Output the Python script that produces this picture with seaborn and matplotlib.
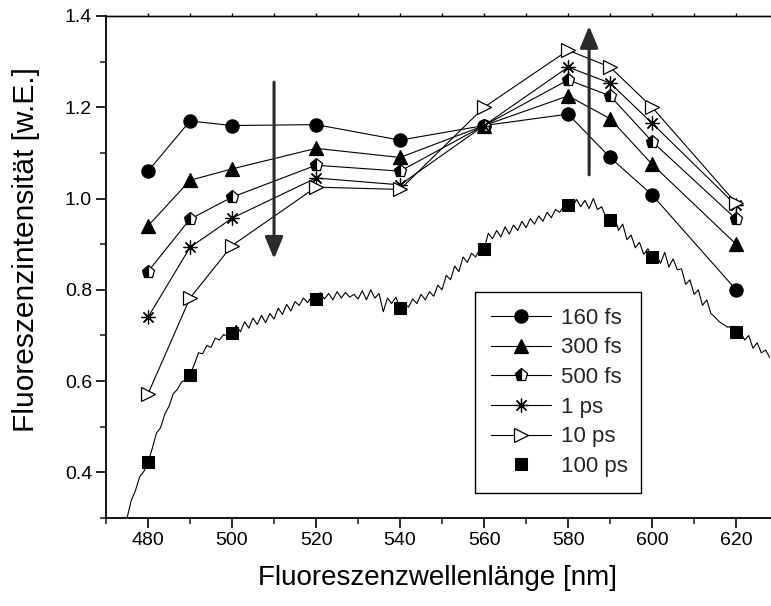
import numpy as np
import pandas as pd
import matplotlib
matplotlib.use("Agg")
import matplotlib.pyplot as plt
import seaborn as sns
from matplotlib.ticker import MultipleLocator

# ---------------- data ----------------
wavelengths = [480, 490, 500, 520, 540, 560, 580, 590, 600, 620]
s160fs = [1.060, 1.170, 1.160, 1.162, 1.128, 1.160, 1.185, 1.090, 1.008, 0.800]
s300fs = [0.940, 1.040, 1.065, 1.110, 1.090, 1.160, 1.225, 1.175, 1.075, 0.900]
s500fs = [0.840, 0.955, 1.003, 1.073, 1.060, 1.160, 1.260, 1.225, 1.125, 0.955]
s1ps = [0.740, 0.893, 0.957, 1.045, 1.030, 1.160, 1.288, 1.253, 1.165, 0.985]
s10ps = [0.572, 0.782, 0.897, 1.025, 1.020, 1.200, 1.325, 1.288, 1.200, 0.990]
s100ps = [0.422, 0.613, 0.705, 0.780, 0.760, 0.889, 0.986, 0.952, 0.872, 0.708]

spec_wl = list(range(475, 629))
spec_int = [
    0.300, 0.338, 0.360, 0.390, 0.402, 0.422, 0.452, 0.486, 0.498, 0.528,
    0.545, 0.572, 0.582, 0.598, 0.603, 0.615, 0.636, 0.662, 0.660, 0.678,
    0.674, 0.694, 0.690, 0.702, 0.698, 0.706, 0.722, 0.708, 0.730, 0.716,
    0.738, 0.724, 0.744, 0.728, 0.748, 0.736, 0.760, 0.746, 0.768, 0.754,
    0.774, 0.766, 0.782, 0.772, 0.786, 0.780, 0.794, 0.780, 0.792, 0.778,
    0.796, 0.782, 0.794, 0.784, 0.790, 0.780, 0.798, 0.778, 0.800, 0.782,
    0.792, 0.752, 0.782, 0.770, 0.784, 0.760, 0.770, 0.762, 0.780, 0.770,
    0.790, 0.778, 0.796, 0.786, 0.810, 0.800, 0.832, 0.822, 0.852, 0.840,
    0.872, 0.860, 0.880, 0.872, 0.890, 0.889, 0.924, 0.912, 0.930, 0.916,
    0.938, 0.922, 0.942, 0.930, 0.950, 0.936, 0.956, 0.944, 0.962, 0.950,
    0.970, 0.958, 0.976, 0.970, 0.984, 0.986, 0.980, 0.998, 0.982, 0.996,
    0.978, 1.000, 0.976, 0.982, 0.958, 0.952, 0.962, 0.930, 0.944, 0.910,
    0.920, 0.892, 0.904, 0.878, 0.890, 0.872, 0.878, 0.858, 0.882, 0.850,
    0.868, 0.844, 0.846, 0.812, 0.822, 0.790, 0.800, 0.766, 0.778, 0.748,
    0.740, 0.730, 0.724, 0.718, 0.720, 0.708, 0.710, 0.690, 0.700, 0.672,
    0.684, 0.662, 0.668, 0.652,
]

series_labels = ["160 fs", "300 fs", "500 fs", "1 ps", "10 ps", "100 ps"]
x_label = "Fluoreszenzwellenlänge [nm]"
y_label = "Fluoreszenzintensität [w.E.]"

# ---------------- style ----------------
sns.set_theme(style="ticks")
plt.rcParams["font.family"] = ["Liberation Sans", "DejaVu Sans"]
plt.rcParams["axes.linewidth"] = 1.3

fig = plt.figure(figsize=(7.71, 6.06), dpi=100)
ax = fig.add_axes([0.1375, 0.1452, 0.8625, 0.8284])

# spectrum (thin line)
spec_df = pd.DataFrame({"wl": spec_wl, "I": spec_int})
sns.lineplot(data=spec_df, x="wl", y="I", ax=ax, color="black", lw=0.8,
             label="_nolegend_", legend=False)

line_kw = dict(color="black", lw=0.8, markeredgecolor="black",
               markeredgewidth=0.9, legend=False)
series = [s160fs, s300fs, s500fs, s1ps, s10ps]
marker_specs = [
    dict(marker="o", markersize=9.5, markerfacecolor="black"),
    dict(marker="^", markersize=10, markerfacecolor="black"),
    dict(marker="p", markersize=9.5, markerfacecolor="black",
         fillstyle="left", markerfacecoloralt="white"),
    dict(marker=(8, 2, 0), markersize=10, markeredgewidth=0.9),
    dict(marker=">", markersize=9.5, markerfacecolor="white"),
]
handles = []
for vals, lab, mk in zip(series, series_labels[:5], marker_specs):
    df = pd.DataFrame({"wl": wavelengths, "I": vals})
    n_before = len(ax.lines)
    kw = dict(line_kw)
    kw.update(mk)
    sns.lineplot(data=df, x="wl", y="I", ax=ax, label=lab, **kw)
    handles.append(ax.lines[n_before])

# 100 ps squares (no line)
df100 = pd.DataFrame({"wl": wavelengths, "I": s100ps})
n_before = len(ax.lines)
sns.lineplot(data=df100, x="wl", y="I", ax=ax, color="black", lw=0,
             marker="s", markersize=8, markerfacecolor="black",
             markeredgecolor="black", label=series_labels[5], legend=False)
handles.append(ax.lines[n_before])

# arrows
arrow_kw = dict(arrowstyle="-|>,head_length=1.2,head_width=0.5",
                color="#2b2b2b", lw=2.2, mutation_scale=11, shrinkA=0, shrinkB=0)
ax.annotate("", xy=(510, 0.868), xytext=(510, 1.255), arrowprops=arrow_kw)
ax.annotate("", xy=(585, 1.378), xytext=(585, 1.052), arrowprops=arrow_kw)

# axes
ax.set_xlim(470, 628.3)
ax.set_ylim(0.3, 1.4)
ax.xaxis.set_minor_locator(MultipleLocator(10))
ax.yaxis.set_minor_locator(MultipleLocator(0.1))
ax.set_xticks([480, 500, 520, 540, 560, 580, 600, 620])
ax.set_yticks([0.4, 0.6, 0.8, 1.0, 1.2, 1.4])
ax.set_yticklabels(["0.4", "0.6", "0.8", "1.0", "1.2", "1.4"])
ax.tick_params(axis="both", which="major", direction="out", length=7,
               width=1.2, labelsize=14, colors="black", pad=3)
ax.tick_params(axis="both", which="minor", direction="out", length=4, width=1.2)
ax.tick_params(axis="x", which="both", top=False, labeltop=False)
ax.spines["right"].set_visible(False)
for s in ["left", "bottom", "top"]:
    ax.spines[s].set_color("black")
ax.spines["top"].set_linewidth(1.0)

# small ticks along the top edge
secax = ax.secondary_xaxis("top")
secax.set_xticks(list(range(480, 630, 10)))
secax.tick_params(axis="x", direction="out", length=2.5, width=1.0,
                  labeltop=False, colors="black")
secax.spines["top"].set_linewidth(1.0)

ax.set_xlabel(x_label, fontsize=20, color="black")
ax.set_ylabel(y_label, fontsize=21.5, color="black")
ax.xaxis.set_label_coords(0.499, -0.094)
ax.yaxis.set_label_coords(-0.10, 0.534)

leg = ax.legend(handles, series_labels, loc="lower left",
                bbox_to_anchor=(0.555, 0.0498, 0.25, 0.396), mode="expand",
                fontsize=16, handlelength=2.7, labelspacing=0.39,
                handletextpad=0.45, borderpad=0.72, frameon=True, fancybox=False,
                edgecolor="black", framealpha=1, borderaxespad=0)
leg.get_frame().set_linewidth(1.0)

fig.savefig("out.png", dpi=100)
